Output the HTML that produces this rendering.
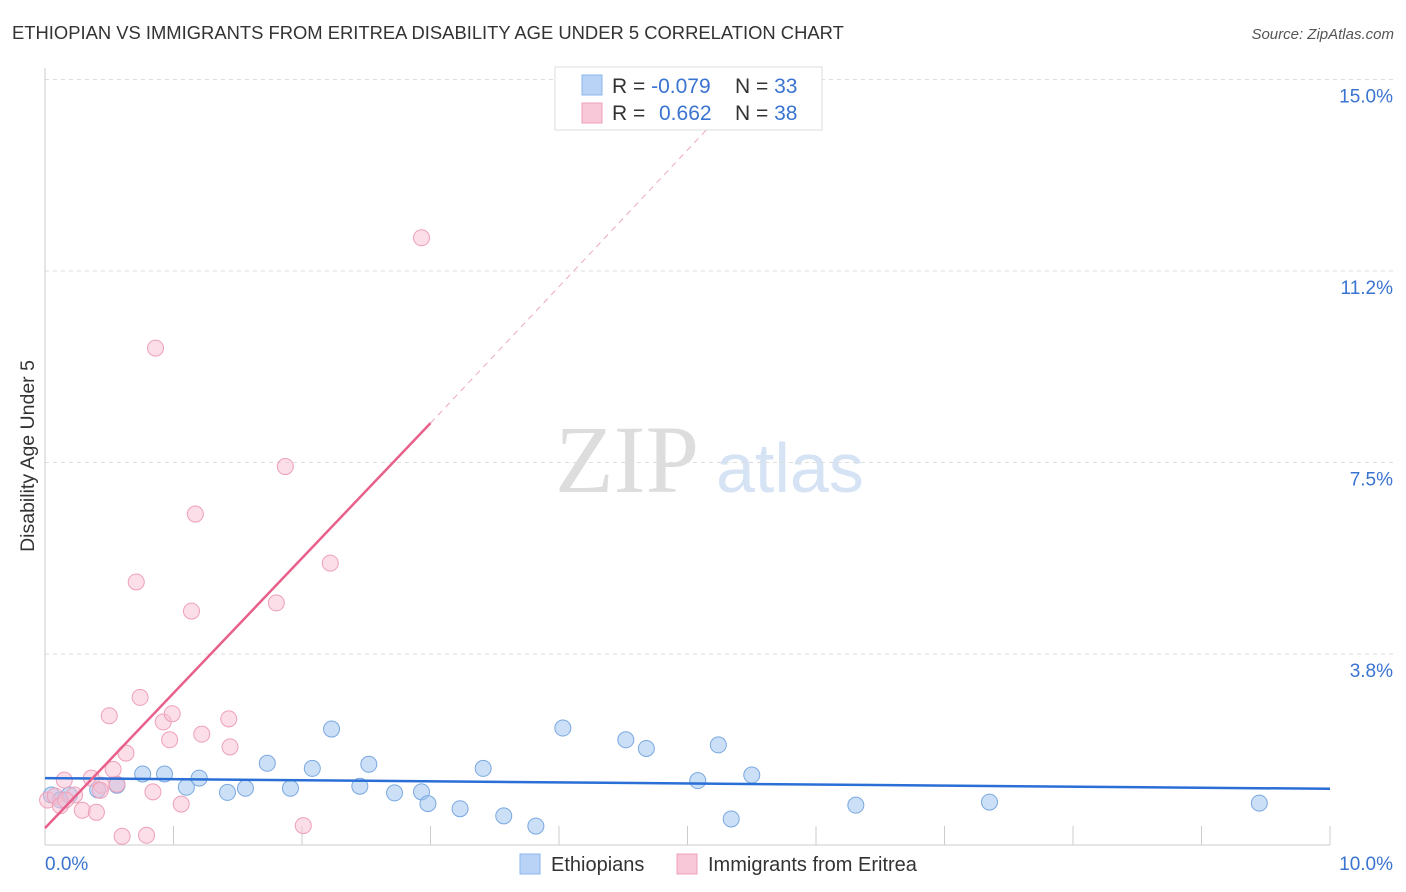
<!DOCTYPE html>
<html><head><meta charset="utf-8"><style>
body{margin:0;background:#fff;font-family:"Liberation Sans",sans-serif;}
#wrap{position:relative;width:1406px;height:892px;overflow:hidden;}
</style></head><body>
<div id="wrap">
<svg id="svg" width="1406" height="892" xmlns="http://www.w3.org/2000/svg">
<text x="12" y="39" font-size="18.4" fill="#333">ETHIOPIAN VS IMMIGRANTS FROM ERITREA DISABILITY AGE UNDER 5 CORRELATION CHART</text>
<text x="1394" y="39" font-size="15" fill="#555" font-style="italic" text-anchor="end">Source: ZipAtlas.com</text>
<text x="34" y="456" font-size="19.5" fill="#333" text-anchor="middle" transform="rotate(-90 34 456)">Disability Age Under 5</text>
<text x="555" y="492" font-size="96" fill="#ddd" font-family="Liberation Serif">ZIP</text>
<text x="716" y="492" font-size="70" fill="#d5e3f5">atlas</text>
<g id="grid"></g>
<g id="marks"></g>
<rect x="555" y="67" width="267" height="63" fill="#fff" stroke="#ddd"/>
<rect x="582" y="75" width="20" height="20" fill="#b8d3f5" stroke="#8ab4ec"/>
<rect x="582" y="103" width="20" height="20" fill="#f9c8d8" stroke="#f0a0b8"/>
<text x="612" y="93" font-size="21" fill="#333">R = <tspan fill="#3a74d0">-0.079</tspan></text>
<text x="735" y="93" font-size="21" fill="#333">N = <tspan fill="#3a74d0">33</tspan></text>
<text x="612" y="120" font-size="21" fill="#333">R = <tspan x="659" fill="#3a74d0">0.662</tspan></text>
<text x="735" y="120" font-size="21" fill="#333">N = <tspan fill="#3a74d0">38</tspan></text>
<rect x="520" y="854" width="20" height="20" fill="#b8d3f5" stroke="#8ab4ec"/>
<text x="551" y="871" font-size="20" fill="#333">Ethiopians</text>
<rect x="677" y="854" width="20" height="20" fill="#f9c8d8" stroke="#f0a0b8"/>
<text x="708" y="871" font-size="20" fill="#333">Immigrants from Eritrea</text>
</svg>
</div>
<script>
const yTicks=[3.75,7.5,11.25,15];
const yTickLabels=["3.8%","7.5%","11.2%","15.0%"];
const xTicks=[0,1,2,3,4,5,6,7,8,9,10];
const blueX=[0.05,0.12,0.19,0.41,0.56,0.76,0.93,1.1,1.2,1.42,1.56,1.73,1.91,2.08,2.23,2.45,2.52,2.72,2.93,2.98,3.23,3.41,3.57,3.82,4.03,4.52,4.68,5.08,5.24,5.34,5.5,6.31,7.35,9.45];
const blueY=[0.99,0.89,0.99,1.09,1.18,1.4,1.4,1.14,1.32,1.04,1.12,1.61,1.12,1.51,2.28,1.16,1.59,1.03,1.05,0.82,0.72,1.51,0.58,0.38,2.3,2.07,1.9,1.27,1.97,0.52,1.38,0.79,0.85,0.83];
const pinkX=[0.02,0.08,0.12,0.15,0.23,0.29,0.36,0.4,0.44,0.5,0.53,0.56,0.6,0.63,0.71,0.74,0.79,0.84,0.86,0.92,0.97,0.99,1.06,1.14,1.17,1.22,1.43,1.44,1.8,1.87,2.01,2.22,2.93,0.16,0.43];
const pinkY=[0.89,0.97,0.78,1.28,0.99,0.69,1.32,0.65,1.18,2.54,1.49,1.2,0.18,1.81,5.16,2.9,0.2,1.05,9.74,2.42,2.07,2.58,0.81,4.59,6.49,2.18,2.48,1.93,4.75,7.42,0.39,5.53,11.9,0.89,1.08];
const blueLine=[[0,1.32],[10,1.11]];
const pinkLine=[[0,0.34],[3,8.27]];
const pinkDash=[[3,8.27],[5.18,14.1]];
const X=v=>45+v*128.5, Y=v=>845.5-v*51.07;
const NS="http://www.w3.org/2000/svg";
const grid=document.getElementById('grid'), marks=document.getElementById('marks');
function mk(t,a,p){const e=document.createElementNS(NS,t);for(const k in a)e.setAttribute(k,a[k]);p.appendChild(e);return e;}
yTicks.forEach((t,i)=>{
 const l=mk('line',{x1:45,x2:1395,y1:Y(t),y2:Y(t),stroke:'#ddd','stroke-dasharray':'4 4'},grid);
 
 
 const tx=mk('text',{x:1393,y:Y(t)+23,'font-size':19,fill:'#3a74d0','text-anchor':'end'},grid);
 tx.textContent=yTickLabels[i];
 
 
});
const ax=mk('line',{x1:45,x2:45,y1:68,y2:845,stroke:'#ccc'},grid);


const bx=mk('line',{x1:45,x2:1330,y1:845,y2:845,stroke:'#ccc'},grid);


xTicks.forEach(t=>{
 const l=mk('line',{x1:X(t),x2:X(t),y1:826,y2:845,stroke:'#ccc'},grid);
 
 
});
[[0,'0.0%','start',45],[10,'10.0%','end',1393]].forEach(d=>{
 const tx=mk('text',{x:d[3],y:870,'font-size':19,fill:'#3a74d0','text-anchor':d[2]},grid);
 tx.textContent=d[1];
 
 
});
blueX.forEach((v,i)=>{
 const c=mk('circle',{cx:X(v),cy:Y(blueY[i]),r:8,fill:'rgba(160,196,240,0.55)',stroke:'#7aa8e0','stroke-width':1},marks);
 
 
});
pinkX.forEach((v,i)=>{
 const c=mk('circle',{cx:X(v),cy:Y(pinkY[i]),r:8,fill:'rgba(248,190,210,0.5)',stroke:'#eea0b8','stroke-width':1},marks);
 
 
});
const bl=mk('line',{x1:X(blueLine[0][0]),y1:Y(blueLine[0][1]),x2:X(blueLine[1][0]),y2:Y(blueLine[1][1]),stroke:'#2a6fd6','stroke-width':2.5},marks);


const pl=mk('line',{x1:X(pinkLine[0][0]),y1:Y(pinkLine[0][1]),x2:X(pinkLine[1][0]),y2:Y(pinkLine[1][1]),stroke:'#e8608a','stroke-width':2.5},marks);


const pd=mk('line',{x1:X(pinkDash[0][0]),y1:Y(pinkDash[0][1]),x2:X(pinkDash[1][0]),y2:Y(pinkDash[1][1]),stroke:'#f0a8be','stroke-width':1,'stroke-dasharray':'6 5'},marks);


</script>
</body></html>
